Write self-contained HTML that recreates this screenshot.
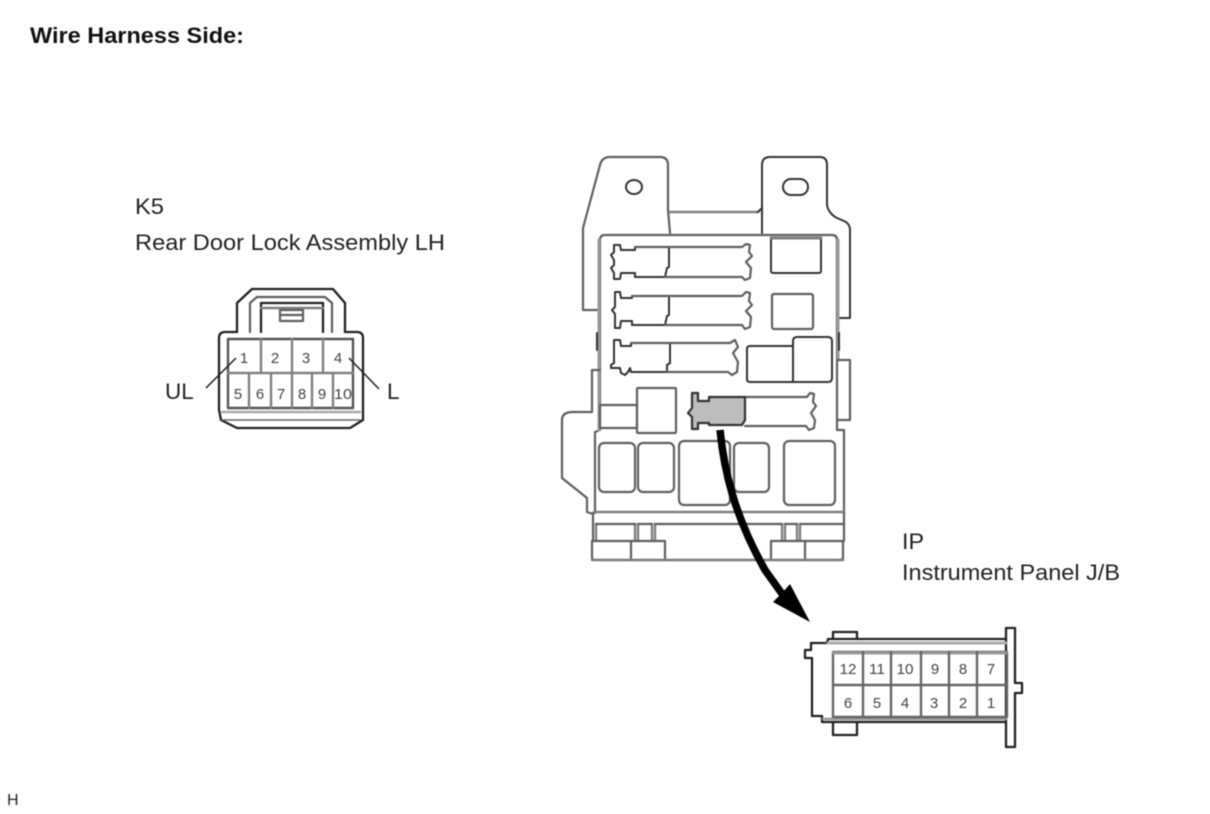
<!DOCTYPE html>
<html>
<head>
<meta charset="utf-8">
<style>
html,body{margin:0;padding:0;background:#fff;width:1210px;height:814px;overflow:hidden}
svg{display:block;filter:blur(0.4px)}
text{font-family:"Liberation Sans",sans-serif;fill:#222}
.n{font-size:15px;text-anchor:middle;fill:#444}
.l{fill:none;stroke:#333;stroke-width:2;stroke-linejoin:round;stroke-linecap:round}
.g{fill:none;stroke:#808080;stroke-width:2.4;stroke-linejoin:round;stroke-linecap:round}
.t{fill:none;stroke:#222;stroke-width:2.3;stroke-linejoin:round;stroke-linecap:round}
.b{fill:none;stroke:#606060;stroke-width:2.2;stroke-linejoin:round;stroke-linecap:round}
</style>
</head>
<body>
<svg width="1210" height="814" viewBox="0 0 1210 814" xmlns="http://www.w3.org/2000/svg">
<text x="30" y="43" font-size="22.5" font-weight="bold" textLength="214" lengthAdjust="spacingAndGlyphs" style="fill:#111">Wire Harness Side:</text>
<text x="135" y="214" font-size="22.5" textLength="29" lengthAdjust="spacingAndGlyphs">K5</text>
<text x="135" y="250" font-size="22.5" textLength="310" lengthAdjust="spacingAndGlyphs">Rear Door Lock Assembly LH</text>
<text x="902" y="549" font-size="22.5" textLength="22" lengthAdjust="spacingAndGlyphs">IP</text>
<text x="902" y="580" font-size="22.5" textLength="218" lengthAdjust="spacingAndGlyphs">Instrument Panel J/B</text>
<text x="7" y="805" font-size="16">H</text>
<text x="165" y="399" font-size="22.5">UL</text>
<text x="387" y="399" font-size="22.5">L</text>

<!-- K5 connector -->
<path class="t" d="M237 332V303L252 289H333L345 303V332"/>
<path class="b" d="M250 332V303L257 297H325L332 303V332"/>
<path class="t" d="M261 332V303H323V332"/>
<path class="g" d="M261 308H323"/>
<path class="b" d="M280 310H303V321H280ZM280 315H303"/>
<path class="t" d="M237 332H225Q219 332 219 338V410L221 420L237 428H350L363 420V338Q363 332 357 332H345"/>
<path class="g" d="M222 412H360" style="stroke:#aaa"/>
<path class="g" d="M222 420H360" style="stroke:#666;stroke-width:1.6"/>
<rect x="228" y="339" width="125" height="69" class="g" style="stroke:#555"/>
<path class="g" d="M228 373H353M261 339V373M292 339V373M323 339V373M249 373V408M271 373V408M292 373V408M312 373V408M333 373V408"/>
<text class="n" x="244" y="363">1</text><text class="n" x="275" y="363">2</text><text class="n" x="306" y="363">3</text><text class="n" x="338" y="363">4</text>
<text class="n" x="238" y="399">5</text><text class="n" x="260" y="399">6</text><text class="n" x="281" y="399">7</text><text class="n" x="302" y="399">8</text><text class="n" x="322" y="399">9</text><text class="n" x="343" y="399" textLength="18" lengthAdjust="spacingAndGlyphs">10</text>
<path d="M206 388L236 358M349 358L379 389" fill="none" stroke="#222" stroke-width="1.5"/>

<!-- J/B outline -->
<path class="b" d="M600 310H583V228L600 165Q602 157 610 157H660Q668 157 668 165V210L670 233"/>
<path class="g" d="M670 212H758"/>
<path class="l" d="M758 212L762 208M762 233V165Q762 157 770 157H820Q827 157 827 165V205Q828 212 835 217L846 222Q850 225 850 230V318H837"/>
<path class="b" d="M605 235H832Q837 235 837 240V430H844V513M600 240Q600 235 605 235M600 240V430L595 432V513"/>
<path class="g" d="M599 240V430M838 240V360" style="stroke:#999;stroke-width:3"/>
<path class="l" d="M597 333V350M839 333V350"/>
<path class="b" d="M600 370H592V412H573Q562 412 562 420V478L587 498V512L593 514"/>
<path class="b" d="M837 360H850V420H837"/>
<ellipse cx="634" cy="187" rx="8" ry="7" class="l"/>
<rect x="783" y="179" width="25" height="16" rx="8" class="l"/>
<!-- bottom part -->
<path class="g" d="M594 512H844"/>
<path class="b" d="M593 513V541M844 513V541"/>
<path class="g" d="M596 524V541M635 524V541M638 524V541M652 524V541M655 524V541M782 524V541M785 524V541M797 524V541M800 524V541"/>
<path class="b" d="M596 524H635M638 524H652M655 524H782M785 524H797M800 524H843"/>
<path class="b" d="M592 541H665V560M631 541V560M771 560V541H843V560M805 541V560"/>
<path class="b" d="M592 541V557Q592 560 595 560H840Q843 560 843 557"/>
<path class="g" d="M592 560H843"/>

<!-- rectangles -->
<rect x="771" y="238" width="50" height="35" rx="2" class="l"/>
<path class="g" d="M771 238H821" style="stroke-width:3"/>
<rect x="772" y="294" width="41" height="35" rx="2" class="b"/>
<path class="l" d="M793 346H750Q747 346 747 349V379Q747 382 750 382H793"/>
<path class="l" d="M793 382H828Q832 382 832 378V341Q832 337 828 337H797Q793 337 793 341Z"/>
<rect x="637" y="388" width="39" height="45" rx="1" class="b"/>
<rect x="600" y="405" width="37" height="23" class="b"/>
<rect x="599" y="443" width="36" height="49" rx="5" class="b"/>
<rect x="638" y="443" width="36" height="49" rx="5" class="b"/>
<rect x="679" y="441" width="51" height="64" rx="5" class="b"/>
<rect x="734" y="443" width="35" height="49" rx="5" class="b"/>
<rect x="784" y="441" width="51" height="64" rx="5" class="b"/>

<!-- fuses -->
<path class="l" d="M635 247V250H621L620 245H614V252L611 255L614 260V265L611 268L614 273V279H620L621 273H635V277H665L667 268L669 267V247"/>
<path class="b" d="M635 247H742L746 244L750 245L749 252L752 256L746 262L751 268L750 278L745 280L742 277H665"/>
<path class="l" d="M632 296V298H621L620 292H615V307L612 310L615 314V328H620L621 321H632V325H665L667 316L669 315V296"/>
<path class="b" d="M632 296H742L746 292L750 293L749 301L752 305L746 311L751 317L750 327L745 329L742 325H665"/>
<path class="l" d="M631 343V346H621L620 340H614V363L611 365V368H620L621 373L625 375L628 372L630 368L631 372H667V365L670 363V343"/>
<path class="b" d="M631 343H730L735 340L738 347L733 353L738 362L737 372L732 375L728 372H667"/>
<!-- gray fuse -->
<path class="b" d="M745 397H807L810 393L814 394L813 402L816 406L811 413L815 420L814 428L809 430L806 426H745"/>
<path d="M692 393H698V401H709V397H745V420L742 425H709V423H698V429H692V417L688 413L692 408Z" fill="#bdbdbd" stroke="#333" stroke-width="2.2" stroke-linejoin="round"/>

<!-- arrow -->
<path d="M720 430C724 470 734 515 765 570L785 598" fill="none" stroke="#000" stroke-width="7.5"/>
<path d="M810 622L773 602L782 593L790 584Z" fill="#000"/>

<!-- IP connector -->
<path class="t" d="M1006 639H828L827 643H811V650H805V658H812V716H822V722H1006"/>
<path class="t" d="M833 639V632H857V639M833 722V735H857V722"/>
<path class="t" d="M1006 628H1015V683H1022V693H1015V747H1006Z"/>
<path class="g" d="M828 643H1006" style="stroke:#aaa;stroke-width:3"/>
<path class="g" d="M823 719H1006" style="stroke:#999;stroke-width:2.4"/>
<rect x="833" y="652" width="174" height="65" class="g" style="stroke:#666"/>
<path class="g" d="M833 653H1006" style="stroke:#999;stroke-width:3"/>
<path class="g" d="M833 685H1007M863 652V717M891 652V717M921 652V717M949 652V717M977 652V717" style="stroke:#666"/>
<text class="n" x="848" y="674" textLength="17" lengthAdjust="spacingAndGlyphs">12</text><text class="n" x="877" y="674" textLength="16" lengthAdjust="spacingAndGlyphs">11</text><text class="n" x="905" y="674" textLength="17" lengthAdjust="spacingAndGlyphs">10</text><text class="n" x="935" y="674">9</text><text class="n" x="963" y="674">8</text><text class="n" x="991" y="674">7</text>
<text class="n" x="848" y="708">6</text><text class="n" x="877" y="708">5</text><text class="n" x="905" y="708">4</text><text class="n" x="934" y="708">3</text><text class="n" x="963" y="708">2</text><text class="n" x="991" y="708">1</text>
</svg>
</body>
</html>
